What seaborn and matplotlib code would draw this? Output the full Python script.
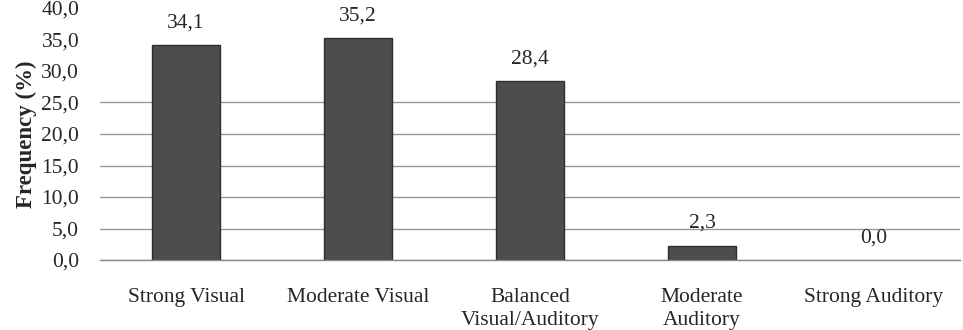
import matplotlib
matplotlib.use("Agg")
import matplotlib.pyplot as plt
import seaborn as sns
import pandas as pd

categories = ["Strong Visual", "Moderate Visual", "Balanced\nVisual/Auditory",
              "Moderate\nAuditory", "Strong Auditory"]
values = [34.1, 35.2, 28.4, 2.3, 0.0]
value_labels = ["34,1", "35,2", "28,4", "2,3", "0,0"]
y_ticks = [0, 5, 10, 15, 20, 25, 30, 35, 40]
y_tick_labels = ["0,0", "5,0", "10,0", "15,0", "20,0", "25,0", "30,0", "35,0", "40,0"]

sns.set_theme(style="white")
plt.rcParams['font.family'] = ['Liberation Serif', 'DejaVu Serif']

df = pd.DataFrame({"cat": categories, "val": values})

fig = plt.figure(figsize=(9.63, 3.3), dpi=100)
ax = fig.add_axes([100 / 963, 1 - 260 / 330, 860 / 963, 252 / 330])

sns.barplot(data=df, x="cat", y="val", ax=ax, color="#4d4d4d", width=0.4,
            edgecolor="#2e2e2e", linewidth=1.0, saturation=1)
for p in ax.patches:
    if p.get_height() == 0:
        p.set_linewidth(0)

ax.set_ylim(0, 40)
ax.set_xlim(-0.5, 4.5)
ax.set_yticks(y_ticks)
ax.set_yticklabels(y_tick_labels, fontsize=15.5)
ax.set_xticks(range(len(categories)))
ax.set_xticklabels(categories, fontsize=15.5, linespacing=1.3)
ax.tick_params(axis="x", length=0, pad=20)
ax.tick_params(axis="y", length=0, pad=15)
ax.set_xticks([1.5, 3.5, 4.5], minor=True)
ax.tick_params(axis="x", which="minor", length=5, color="#888888", width=1)
ax.set_xlabel("")
ax.set_ylabel("Frequency (%)", fontsize=16.5, fontweight="bold", labelpad=3)

ax.grid(axis="y", color="#999999", linewidth=1)
ax.set_axisbelow(True)
for t, gl in zip(y_ticks, ax.yaxis.get_gridlines()):
    if t > 25:
        gl.set_visible(False)

for s in ["top", "right", "left"]:
    ax.spines[s].set_visible(False)
ax.spines["bottom"].set_color("#888888")
ax.spines["bottom"].set_linewidth(1)

for i, (v, lab) in enumerate(zip(values, value_labels)):
    ax.annotate(lab, (i, v), xytext=(0, 9), textcoords="offset points",
                ha="center", va="bottom", fontsize=15.5)

fig.savefig("out.png", dpi=100)
